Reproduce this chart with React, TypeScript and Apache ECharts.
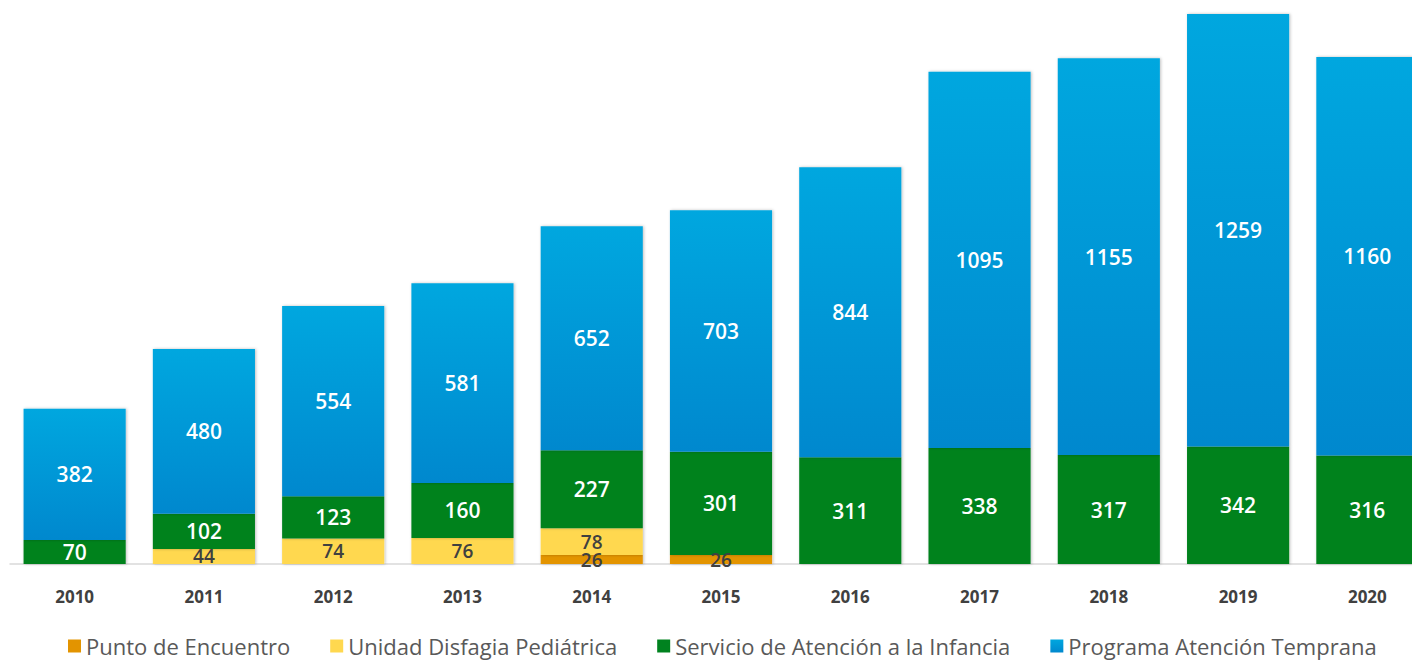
import React, { useEffect, useRef } from "react";
import * as echarts from "echarts";

const years = ["2010", "2011", "2012", "2013", "2014", "2015", "2016", "2017", "2018", "2019", "2020"];
const puntoEncuentro = [0, 0, 0, 0, 26, 26, 0, 0, 0, 0, 0];
const unidadDisfagia = [0, 44, 74, 76, 78, 0, 0, 0, 0, 0, 0];
const servicioInfancia = [70, 102, 123, 160, 227, 301, 311, 338, 317, 342, 316];
const programaTemprana = [382, 480, 554, 581, 652, 703, 844, 1095, 1155, 1259, 1160];

const FONT = "'Open Sans', 'Noto Sans', sans-serif";

const toData = (arr: number[]) => arr.map((v) => (v === 0 ? null : v));

export default function App() {
  const ref = useRef<HTMLDivElement>(null);
  useEffect(() => {
    if (!ref.current) return;
    const chart = echarts.init(ref.current, null, { renderer: "svg" });
    const shadow = {
      shadowColor: "rgba(0,0,0,0.25)",
      shadowBlur: 3,
      shadowOffsetX: 1,
      shadowOffsetY: 0,
    };
    const mkSeries = (name: string, data: number[], color: any, labelColor: string, size = 21) => ({
      name,
      type: "bar",
      stack: "total",
      barCategoryGap: "21%",
      data: toData(data),
      itemStyle: { color, ...shadow },
      label: {
        show: true,
        position: "inside",
        color: labelColor,
        fontFamily: FONT,
        fontSize: size,
        fontWeight: 600,
      },
    });
    chart.setOption({
      animation: false,
      backgroundColor: "#ffffff",
      textStyle: { fontFamily: FONT },
      grid: {
        left: 10,
        right: -20,
        top: 14,
        bottom: 96,
        containLabel: false,
        outerBoundsMode: "none",
      },
      legend: {
        bottom: 3,
        left: 63,
        padding: [5, 5, 0, 5],
        icon: "rect",
        itemWidth: 13,
        itemHeight: 13,
        itemGap: 40,
        textStyle: { fontFamily: FONT, fontSize: 22, color: "#595959" },
        data: [
          "Punto de Encuentro",
          "Unidad Disfagia Pediátrica",
          "Servicio de Atención a la Infancia",
          "Programa Atención Temprana",
        ],
      },
      xAxis: {
        type: "category",
        data: years,
        axisLine: { lineStyle: { color: "#D9D9D9", width: 1.5 } },
        axisTick: { show: false },
        axisLabel: {
          color: "#404040",
          fontFamily: FONT,
          fontSize: 17,
          fontWeight: "bold",
          margin: 24,
        },
      },
      yAxis: {
        type: "value",
        min: 0,
        max: 1601,
        show: false,
        splitLine: { show: false },
      },
      series: [
        mkSeries("Punto de Encuentro", puntoEncuentro, "#E39400", "#404040", 19),
        mkSeries("Unidad Disfagia Pediátrica", unidadDisfagia, "#FFD84F", "#404040", 19),
        mkSeries("Servicio de Atención a la Infancia", servicioInfancia, "#00821F", "#ffffff"),
        mkSeries(
          "Programa Atención Temprana",
          programaTemprana,
          new echarts.graphic.LinearGradient(0, 0, 0, 1, [
            { offset: 0, color: "#00A7DF" },
            { offset: 1, color: "#0088CE" },
          ]),
          "#ffffff"
        ),
      ],
    });
    return () => chart.dispose();
  }, []);
  return (
    <div
      ref={ref}
      style={{ position: "absolute", left: 0, top: 0, width: 1412, height: 660 }}
    />
  );
}
